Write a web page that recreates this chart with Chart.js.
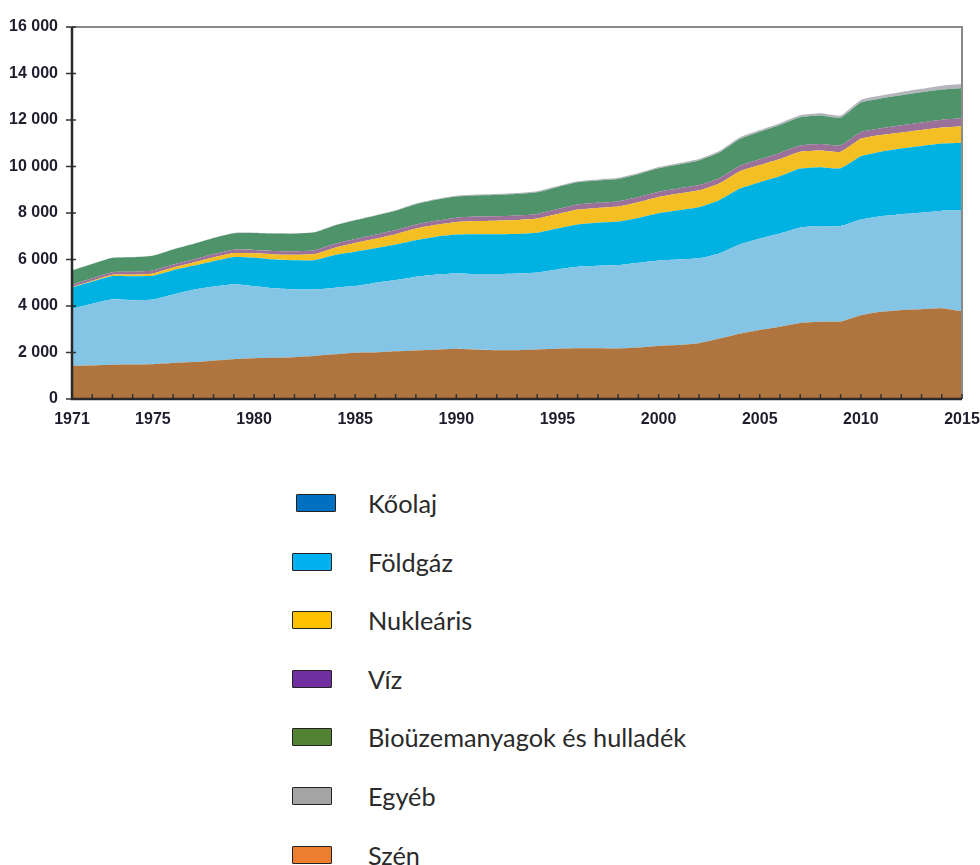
<!DOCTYPE html>
<html>
<head>
<meta charset="utf-8">
<script src="https://cdn.jsdelivr.net/npm/chart.js@4/dist/chart.umd.min.js"></script>
<style>
  html, body { margin: 0; padding: 0; background: #fff; }
  #wrap { position: relative; width: 980px; height: 865px; overflow: hidden; }
  #box { position: absolute; left: 0; top: 0; width: 980px; height: 440px; }
  #legend { position: absolute; left: 292px; top: 490px; }
  .row { position: absolute; left: 0; width: 500px; height: 26px; display: flex; align-items: center; }
  .sw { width: 38px; height: 16px; border: 1.5px solid #222; border-radius: 1px; box-sizing: content-box; }
  .lab { position: absolute; left: 76px; font-family: Lato, "Open Sans", sans-serif; font-size: 25.3px; color: #2a2a2a; line-height: 26px; white-space: nowrap; }
</style>
</head>
<body>
<div id="wrap">
  <div id="box"><canvas id="chart"></canvas></div>
  <div id="legend"></div>
</div>
<script>
// évek
const years = [1971,1972,1973,1974,1975,1976,1977,1978,1979,1980,
               1981,1982,1983,1984,1985,1986,1987,1988,1989,1990,
               1991,1992,1993,1994,1995,1996,1997,1998,1999,2000,
               2001,2002,2003,2004,2005,2006,2007,2008,2009,2010,
               2011,2012,2013,2014,2015];
const shownYears = [1971,1975,1980,1985,1990,1995,2000,2005,2010,2015];

// Mtoe, leolvasva az ábráról
const szen = [1430,1440,1470,1480,1500,1550,1590,1650,1710,1750,
              1770,1800,1850,1920,1990,2000,2050,2090,2120,2160,
              2120,2100,2100,2130,2160,2180,2180,2170,2210,2280,
              2320,2400,2600,2810,2970,3110,3270,3320,3330,3600,
              3750,3820,3860,3900,3770];
const koolaj = [2460,2660,2820,2770,2780,2950,3110,3190,3230,3110,
                2990,2910,2860,2870,2870,3000,3065,3170,3240,3240,
                3255,3275,3300,3315,3415,3510,3550,3590,3650,3680,
                3680,3650,3660,3830,3930,4010,4110,4120,4110,4120,
                4115,4130,4150,4195,4355];
const foldgaz = [900,950,1000,1030,1020,1040,1030,1090,1170,1220,
                 1245,1260,1260,1400,1470,1480,1530,1570,1620,1670,
                 1710,1715,1700,1710,1760,1820,1850,1870,1930,2030,
                 2120,2200,2290,2400,2420,2460,2530,2530,2480,2720,
                 2770,2820,2870,2890,2900];
const nuklearis = [30,40,55,70,100,115,140,165,170,185,
                   215,230,265,320,385,415,445,500,510,545,
                   570,580,595,605,620,640,640,650,675,700,
                   715,725,720,745,740,745,725,720,710,750,
                   715,690,690,690,710];
const viz = [105,108,110,120,125,125,128,138,143,148,
             150,155,162,167,170,173,174,178,178,184,
             190,190,200,202,212,215,218,220,222,225,
             220,225,228,240,250,260,265,275,278,295,
             300,315,325,335,335];
const bio = [600,610,620,630,640,655,670,690,710,730,
             745,755,770,785,800,815,830,870,900,910,
             910,915,920,930,945,955,960,965,985,1010,
             1030,1060,1100,1150,1180,1200,1220,1230,1190,1270,
             1280,1290,1295,1300,1300];
const egyeb = [5,5,6,6,7,8,9,10,11,12,
               13,15,17,19,22,24,27,30,33,36,
               38,40,42,43,45,46,47,49,52,55,
               58,62,66,70,75,80,85,90,95,110,
               120,135,150,165,180];

// rétegek alulról felfelé
const series = [
  { name: 'Szén', data: szen, color: '#b0743e' },
  { name: 'Kőolaj', data: koolaj, color: '#84c4e5' },
  { name: 'Földgáz', data: foldgaz, color: '#00b2e2' },
  { name: 'Nukleáris', data: nuklearis, color: '#f4bf22' },
  { name: 'Víz', data: viz, color: '#9b7099' },
  { name: 'Bioüzemanyagok és hulladék', data: bio, color: '#4f936b' },
  { name: 'Egyéb', data: egyeb, color: '#b4b4bc' }
];

// jelmagyarázat sorrend és színek (ahogy a képen)
const legendNames = ['Kőolaj','Földgáz','Nukleáris','Víz','Bioüzemanyagok és hulladék','Egyéb','Szén'];
const legendColors = ['#0070c0','#00b0f0','#ffc000','#7030a0','#548235','#a5a5a5','#ed7d31'];

const legend = document.getElementById('legend');
legendNames.forEach((n, i) => {
  const row = document.createElement('div');
  row.className = 'row';
  row.style.top = Math.round(i * 58.6) + 'px';
  const shift = i === 0 ? 'margin-left:4px;' : '';
  row.innerHTML = `<div class="sw" style="${shift}background:${legendColors[i]}"></div><div class="lab">${n}</div>`;
  legend.appendChild(row);
});

const tickFont = { family: '"Liberation Sans", Arial, sans-serif', size: 16, weight: 'bold' };

// tengelyvonalak, kis osztások, keret
const framePlugin = {
  id: 'frame',
  afterDatasetsDraw(chart) {
    const { ctx, chartArea: a, scales } = chart;
    ctx.save();
    ctx.strokeStyle = '#8a8a8a';
    ctx.lineWidth = 2;
    ctx.beginPath();
    ctx.moveTo(a.left, a.top);
    ctx.lineTo(a.right, a.top);
    ctx.lineTo(a.right, a.bottom);
    ctx.stroke();
    ctx.strokeStyle = '#333';
    ctx.lineWidth = 1.5;
    ctx.beginPath();
    scales.x.ticks.forEach((t, i) => {
      const x = scales.x.getPixelForTick(i);
      ctx.moveTo(x, a.bottom);
      ctx.lineTo(x, a.bottom - 5);
    });
    scales.y.ticks.forEach((t, i) => {
      const y = scales.y.getPixelForTick(i);
      ctx.moveTo(a.left - 6, y);
      ctx.lineTo(a.left + 4, y);
    });
    ctx.stroke();
    ctx.strokeStyle = '#2a2a2a';
    ctx.lineWidth = 2.5;
    ctx.beginPath();
    ctx.moveTo(a.left, a.top);
    ctx.lineTo(a.left, a.bottom);
    ctx.lineTo(a.right, a.bottom);
    ctx.stroke();
    ctx.restore();
  }
};

new Chart(document.getElementById('chart'), {
  type: 'line',
  data: {
    labels: years,
    datasets: series.map((s, i) => ({
      label: s.name,
      data: s.data,
      backgroundColor: s.color,
      borderColor: s.color,
      borderWidth: 0,
      pointRadius: 0,
      fill: i === 0 ? 'origin' : '-1',
      tension: 0.15
    }))
  },
  options: {
    responsive: true,
    maintainAspectRatio: false,
    animation: false,
    layout: { padding: { top: 27, right: 18, left: 0, bottom: 0 } },
    plugins: { legend: { display: false }, tooltip: { enabled: false } },
    scales: {
      x: {
        offset: false,
        grid: { display: false, drawTicks: false },
        border: { display: false },
        ticks: {
          autoSkip: false, maxRotation: 0, padding: 11,
          color: '#1e1e2e', font: tickFont,
          callback: function (v, i) { const y = years[i]; return shownYears.includes(y) ? String(y) : ''; }
        },
        afterFit: s => { s.height = 41; s.paddingLeft = 0; s.paddingRight = 0; }
      },
      y: {
        stacked: true,
        min: 0, max: 16000,
        grid: { display: false, drawTicks: false },
        border: { display: false },
        ticks: {
          stepSize: 2000, padding: 14,
          color: '#1e1e2e', font: tickFont,
          callback: v => v >= 1000 ? Math.floor(v / 1000) + ' ' + String(v % 1000).padStart(3, '0') : String(v)
        },
        afterFit: s => { s.width = 72; }
      }
    }
  },
  plugins: [framePlugin]
});
</script>
</body>
</html>
